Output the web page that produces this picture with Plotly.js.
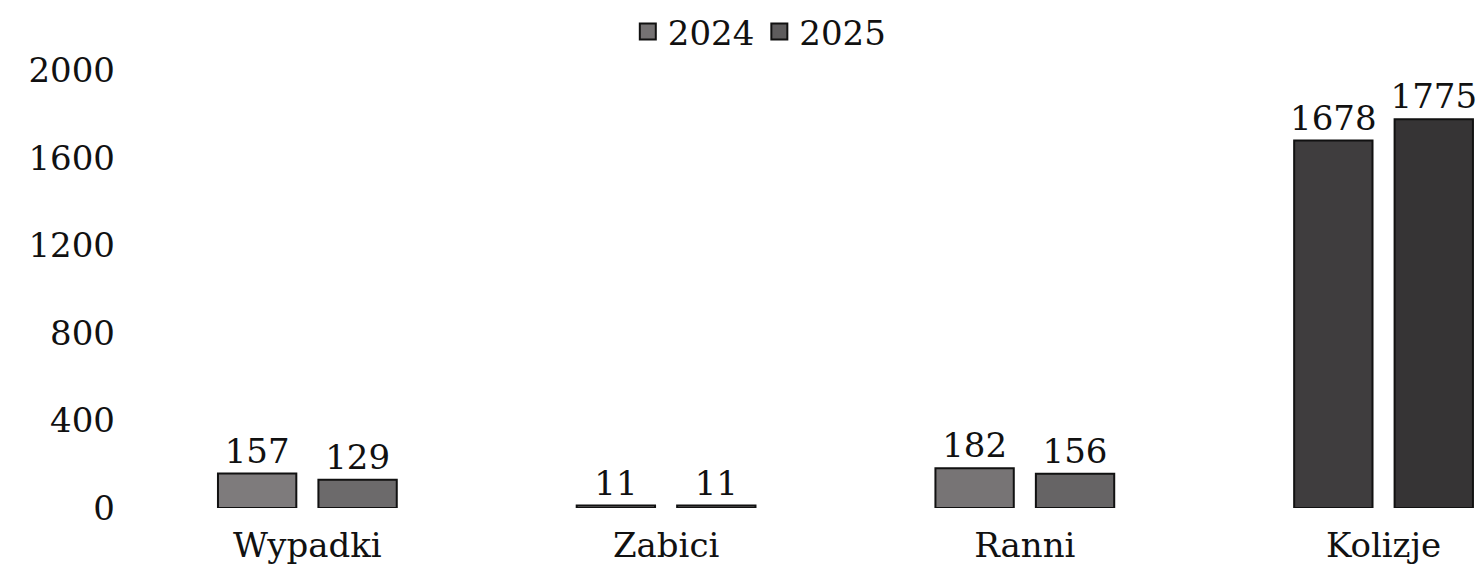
<!DOCTYPE html>
<html>
<head>
<meta charset="utf-8">
<script src="https://cdn.plot.ly/plotly-3.0.1.min.js"></script>
<style>html,body{margin:0;padding:0;background:#fff;}#chart{width:1484px;height:571px;}</style>
</head>
<body>
<div id="chart"></div>
<script>
const categories = ["Wypadki", "Zabici", "Ranni", "Kolizje"];
const seriesNames = ["2024", "2025"];
const values2024 = [157, 11, 182, 1678];
const values2025 = [129, 11, 156, 1775];
const yTicks = [0, 400, 800, 1200, 1600, 2000];

const colors2024 = ["#7e7b7c", "#7e7b7c", "#777475", "#3f3d3e"];
const colors2025 = ["#6c6a6b", "#6c6a6b", "#666465", "#363435"];
const legendColors = ["#757273", "#5e5c5d"];
const fontFamily = "'DejaVu Serif', 'Liberation Serif', serif";

const xIdx = categories.map((c, i) => i);

const traces = [
  {
    type: "bar", name: seriesNames[0], x: xIdx, y: values2024, showlegend: false,
    text: values2024.map(String), textposition: "outside", cliponaxis: false, constraintext: "none",
    textfont: {family: fontFamily, size: 34, color: "#111"},
    marker: {color: colors2024, line: {color: "#111", width: 2}}
  },
  {
    type: "bar", name: seriesNames[1], x: xIdx, y: values2025, showlegend: false,
    text: values2025.map(String), textposition: "outside", cliponaxis: false, constraintext: "none",
    textfont: {family: fontFamily, size: 34, color: "#111"},
    marker: {color: colors2025, line: {color: "#111", width: 2}}
  },
  {
    type: "scatter", mode: "markers", name: seriesNames[0], x: [null], y: [null], hoverinfo: "skip",
    marker: {symbol: "square", size: 20, color: legendColors[0], line: {color: "#111", width: 2}}
  },
  {
    type: "scatter", mode: "markers", name: seriesNames[1], x: [null], y: [null], hoverinfo: "skip",
    marker: {symbol: "square", size: 20, color: legendColors[1], line: {color: "#111", width: 2}}
  }
];

const layout = {
  width: 1484, height: 571,
  paper_bgcolor: "#fff", plot_bgcolor: "#fff",
  margin: {l: 128, r: 0, t: 70, b: 63},
  font: {family: fontFamily, size: 34, color: "#111"},
  barmode: "group", bargap: 0.44, bargroupgap: 0.22,
  showlegend: true,
  legend: {
    orientation: "h", xref: "container", yref: "container",
    x: 0.512, xanchor: "center", y: 0.995, yanchor: "top",
    font: {family: fontFamily, size: 34, color: "#111"},
    itemwidth: 30, tracegroupgap: 0
  },
  xaxis: {
    range: [-0.5, 3.28], tickmode: "array", tickvals: xIdx, ticktext: categories,
    showgrid: false, zeroline: false, showline: false, ticks: "",
    ticklabelstandoff: 14, tickfont: {family: fontFamily, size: 34, color: "#111"}
  },
  yaxis: {
    range: [0, 2000], tickmode: "array", tickvals: yTicks,
    showgrid: false, zeroline: false, showline: false, ticks: "",
    ticklabelstandoff: 12, tickfont: {family: fontFamily, size: 34, color: "#111"}
  }
};

Plotly.newPlot("chart", traces, layout, {displayModeBar: false, staticPlot: true});
</script>
</body>
</html>
